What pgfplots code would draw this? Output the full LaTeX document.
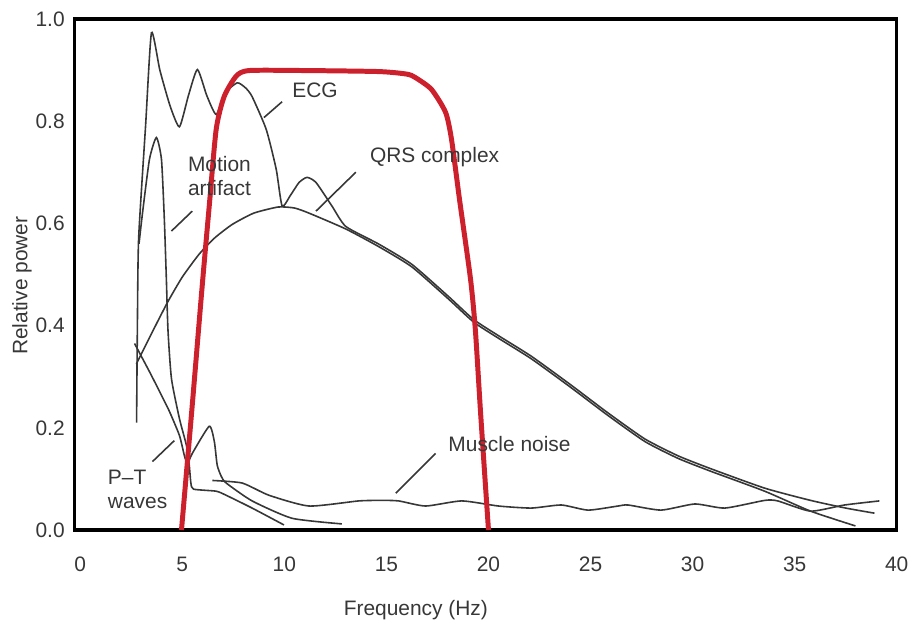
\documentclass[border=0pt]{standalone}
\usepackage{pgfplots}
\pgfplotsset{compat=1.18}
\usepackage{fontspec}
\setmainfont{Liberation Sans}
\definecolor{filt}{RGB}{204,32,44}
\definecolor{ink}{RGB}{55,55,55}
\newcommand{\lblfont}{\fontsize{10.5}{12}\selectfont}

\begin{document}
\begin{tikzpicture}
\begin{axis}[
    scale only axis,
    width=412.5pt, height=256.5pt,
    xmin=-0.27, xmax=40, ymin=0, ymax=1,
    xtick={0,5,10,15,20,25,30,35,40},
    ytick={0,0.2,0.4,0.6,0.8,1},
    y tick label style={/pgf/number format/.cd, fixed, fixed zerofill, precision=1, /tikz/.cd},
    /pgf/number format/assume math mode=true,
    major tick length=0pt,
    tick label style={font=\lblfont, text=ink},
    xticklabel style={yshift=-10pt},
    yticklabel style={xshift=-1.5pt},
    axis line style={line width=1.6pt, black},
    xlabel={Frequency (Hz)},
    ylabel={Relative power},
    label style={font=\lblfont, text=ink},
    xlabel style={at={(rel axis cs:0.415,0)}, anchor=center, yshift=-40pt},
    ylabel style={at={(rel axis cs:0,0.478)}, anchor=center, yshift=26.5pt},
    clip mode=individual,
    every axis plot/.append style={line width=0.8pt, no markers, smooth, tension=0.35},
]

% ECG
\addplot[ink] coordinates {(2.76,0.21) (2.80,0.40) (2.86,0.57) (3.2,0.79) (3.49,0.973)
  (3.9,0.90) (4.4,0.83) (4.86,0.789) (5.3,0.85) (5.74,0.901) (6.2,0.85) (6.66,0.813)
  (7.1,0.855) (7.69,0.875) (8.1,0.865) (8.42,0.848) (9.11,0.784) (9.6,0.706)
  (9.89,0.634) (10.3,0.655) (10.72,0.680) (11.11,0.690) (11.55,0.680) (12.33,0.634)
  (13.01,0.594) (14.6,0.560) (16.24,0.520) (18.04,0.457) (19.27,0.412) (20.5,0.38)
  (22.10,0.340) (24.0,0.285) (25.86,0.229) (27.67,0.178) (29.3,0.145) (30.89,0.120)
  (33.53,0.082) (35.78,0.058) (37.5,0.043) (38.91,0.033)};

% QRS complex
\addplot[ink] coordinates {(2.75,0.325) (3.5,0.385) (4.27,0.445) (5.0,0.495) (5.83,0.540)
  (6.6,0.572) (7.45,0.598) (8.5,0.620) (9.7,0.632) (10.5,0.630) (11.21,0.620)
  (13.01,0.589) (14.6,0.555) (16.24,0.515) (18.04,0.452) (19.27,0.407) (20.5,0.375)
  (22.10,0.335) (24.0,0.280) (25.86,0.224) (27.67,0.173) (29.3,0.140) (30.89,0.115)
  (33.53,0.076) (35.78,0.037) (37.98,0.008)};

% Motion artifact
\addplot[ink] coordinates {(2.88,0.56) (3.05,0.62) (3.39,0.725) (3.73,0.768) (3.98,0.725)
  (4.12,0.608) (4.22,0.490) (4.30,0.390) (4.47,0.296) (4.86,0.218) (5.2,0.166)
  (5.34,0.127) (5.42,0.092) (5.55,0.080) (6.66,0.076) (7.15,0.068) (8.42,0.043)
  (9.98,0.010)};

% P-T waves
\addplot[ink] coordinates {(2.66,0.365) (3.39,0.310) (3.9,0.270) (4.37,0.232) (4.86,0.185)
  (5.10,0.146) (5.25,0.130) (5.49,0.150) (6.32,0.203) (6.57,0.173) (6.71,0.127)
  (6.91,0.105) (7.15,0.092) (8.42,0.057) (10.38,0.023) (12.82,0.012)};

% Muscle noise
\addplot[ink] coordinates {(6.47,0.097) (7.93,0.092) (9.25,0.068) (11.21,0.047) (13.65,0.057)
  (14.77,0.058) (15.6,0.057) (16.92,0.047) (18.69,0.057) (20.49,0.047) (22.10,0.043)
  (23.57,0.049) (24.88,0.039) (26.35,0.047) (26.84,0.049) (28.45,0.039) (30.11,0.051)
  (31.58,0.043) (33.53,0.058) (34.17,0.057) (35.78,0.037) (37.44,0.049) (39.15,0.057)};

% band-pass filter
\addplot[filt, line width=2.5pt, tension=0.4] coordinates {(4.96,0) (5.47,0.236) (5.98,0.480)
  (6.32,0.634) (6.66,0.784) (7.05,0.848) (7.64,0.888) (8.28,0.899) (11,0.899)
  (14.62,0.897) (16.0,0.892) (16.43,0.885) (17.21,0.862) (17.90,0.817) (18.19,0.764)
  (18.58,0.647) (19.12,0.491) (19.36,0.39) (19.62,0.225) (20.0,0)};

% annotations
\node[font=\lblfont, text=ink] at (axis cs:11.5,0.86) {ECG};
\draw[ink, line width=0.8pt] (axis cs:9.0,0.807) -- (axis cs:9.89,0.838);
\node[font=\lblfont, text=ink] at (axis cs:17.36,0.729) {QRS complex};
\draw[ink, line width=0.8pt] (axis cs:11.55,0.624) -- (axis cs:13.5,0.70);
\node[font=\lblfont, text=ink, align=center] at (axis cs:6.82,0.692) {Motion\\artifact};
\draw[ink, line width=0.8pt] (axis cs:4.47,0.585) -- (axis cs:5.49,0.624);
\node[font=\lblfont, text=ink, align=left, anchor=west, inner sep=0pt] at (axis cs:1.34,0.08) {P--T\\waves};
\draw[ink, line width=0.8pt] (axis cs:3.54,0.134) -- (axis cs:4.61,0.175);
\node[font=\lblfont, text=ink] at (axis cs:21.03,0.168) {Muscle noise};
\draw[ink, line width=0.8pt] (axis cs:15.46,0.072) -- (axis cs:17.41,0.150);
\end{axis}
\path ([shift={(-37.5pt,-48.5pt)}]current axis.south west)
  rectangle ([shift={(7.5pt,9.5pt)}]current axis.north east);
\end{tikzpicture}
\end{document}
